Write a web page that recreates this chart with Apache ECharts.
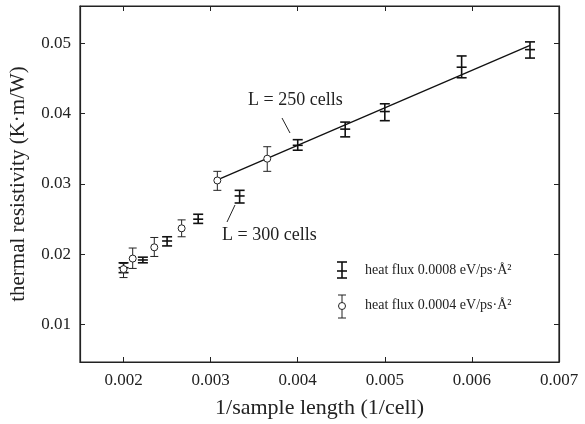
<!DOCTYPE html>
<html><head><meta charset="utf-8">
<script src="https://cdn.jsdelivr.net/npm/echarts@6/dist/echarts.min.js"></script>
<style>html,body{margin:0;padding:0;background:#fff}#c{width:585px;height:424px}</style>
</head><body><div id="c"></div>
<script>
// heat flux 0.0008 eV/ps·Å² (black I markers)
const xBlack  = [0.002, 0.002222, 0.0025, 0.002857, 0.003333, 0.004, 0.004545, 0.005, 0.005882, 0.006667];
const yBlack  = [0.0181, 0.0192, 0.0219, 0.0250, 0.0283, 0.0355, 0.0378, 0.0403, 0.0466, 0.0491];
const loBlack = [0.0174, 0.0188, 0.0212, 0.0244, 0.0273, 0.0348, 0.0367, 0.0390, 0.0451, 0.0479];
const hiBlack = [0.0188, 0.0196, 0.0225, 0.0257, 0.0291, 0.0363, 0.0388, 0.0414, 0.0482, 0.0502];
// heat flux 0.0004 eV/ps·Å² (open circles)
const xOpen  = [0.002, 0.002105, 0.002353, 0.002667, 0.003077, 0.003650];
const yOpen  = [0.0179, 0.0194, 0.0210, 0.0237, 0.0305, 0.0336];
const loOpen = [0.0167, 0.0180, 0.0197, 0.0225, 0.0291, 0.0318];
const hiOpen = [0.0187, 0.0209, 0.0224, 0.0249, 0.0318, 0.0353];
// linear fit
const xFit = [0.003077, 0.006667];
const yFit = [0.0306, 0.0497];
// ticks
const xTicks = [0.002, 0.003, 0.004, 0.005, 0.006, 0.007];
const yTicks = [0.01, 0.02, 0.03, 0.04, 0.05];
const seriesNames = ['heat flux 0.0008 eV/ps·Å²', 'heat flux 0.0004 eV/ps·Å²'];

const FONT = '"Liberation Serif", "DejaVu Serif", serif';
const chart = echarts.init(document.getElementById('c'), null, {renderer: 'canvas'});

function errItem(params, api, open) {
  const x = api.value(0), y = api.value(1), lo = api.value(2), hi = api.value(3);
  const p = api.coord([x, y]), pl = api.coord([x, lo]), ph = api.coord([x, hi]);
  const w = open ? 4 : 5;
  const st = {stroke: open ? '#222' : '#111', lineWidth: open ? 1 : 1.6, fill: null};
  const ch = [
    {type: 'line', shape: {x1: p[0], y1: ph[1], x2: p[0], y2: pl[1]}, style: st},
    {type: 'line', shape: {x1: p[0] - w, y1: ph[1], x2: p[0] + w, y2: ph[1]}, style: st},
    {type: 'line', shape: {x1: p[0] - w, y1: pl[1], x2: p[0] + w, y2: pl[1]}, style: st}
  ];
  if (open) {
    ch.push({type: 'circle', shape: {cx: p[0], cy: p[1], r: 3.5}, style: {fill: '#fff', stroke: '#222', lineWidth: 1}});
  } else {
    ch.push({type: 'line', shape: {x1: p[0] - w, y1: p[1], x2: p[0] + w, y2: p[1]}, style: st});
  }
  return {type: 'group', children: ch};
}

const axisLbl = {fontFamily: FONT, fontSize: 17, color: '#222'};
chart.setOption({
  animation: false,
  grid: {left: 76, right: 26, top: 6, bottom: 62, show: true, borderColor: '#222', borderWidth: 1.2, backgroundColor: 'transparent'},
  xAxis: [{
    type: 'value', min: 0.0015, max: 0.007, position: 'bottom',
    name: '1/sample length (1/cell)', nameLocation: 'middle', nameGap: 35,
    nameTextStyle: {fontFamily: FONT, fontSize: 22, color: '#222'},
    axisLine: {show: true, lineStyle: {color: '#222', width: 1.2}},
    axisTick: {show: true, inside: true, length: 5, customValues: xTicks, lineStyle: {color: '#222'}},
    axisLabel: Object.assign({margin: 10, customValues: xTicks, formatter: v => v.toFixed(3)}, axisLbl),
    splitLine: {show: false}
  }, {
    type: 'value', min: 0.0015, max: 0.007, position: 'top',
    axisLine: {show: true, lineStyle: {color: '#222', width: 1.2}},
    axisTick: {show: true, inside: true, length: 5, customValues: xTicks, lineStyle: {color: '#222'}},
    axisLabel: {show: false}, splitLine: {show: false}
  }],
  yAxis: [{
    type: 'value', min: 0.0047, max: 0.0553, position: 'left',
    name: 'thermal resistivity (K·m/W)', nameLocation: 'middle', nameGap: 51, nameRotate: 90,
    nameTextStyle: {fontFamily: FONT, fontSize: 21, color: '#222'},
    axisLine: {show: true, lineStyle: {color: '#222', width: 1.2}},
    axisTick: {show: true, inside: true, length: 5, customValues: yTicks, lineStyle: {color: '#222'}},
    axisLabel: Object.assign({margin: 9, customValues: yTicks, formatter: v => v.toFixed(2)}, axisLbl),
    splitLine: {show: false}
  }, {
    type: 'value', min: 0.0047, max: 0.0553, position: 'right',
    axisLine: {show: true, lineStyle: {color: '#222', width: 1.2}},
    axisTick: {show: true, inside: true, length: 5, customValues: yTicks, lineStyle: {color: '#222'}},
    axisLabel: {show: false}, splitLine: {show: false}
  }],
  series: [
    {type: 'line', data: xFit.map((x, i) => [x, yFit[i]]), symbol: 'none', lineStyle: {color: '#111', width: 1.3}, z: 1},
    {type: 'custom', name: seriesNames[0], data: xBlack.map((x, i) => [x, yBlack[i], loBlack[i], hiBlack[i]]),
     renderItem: (p, a) => errItem(p, a, false), z: 2},
    {type: 'custom', name: seriesNames[1], data: xOpen.map((x, i) => [x, yOpen[i], loOpen[i], hiOpen[i]]),
     renderItem: (p, a) => errItem(p, a, true), z: 3}
  ]
});

// annotations and legend
const annFont = '18px ' + FONT;
const lgFont = '14px ' + FONT;
chart.setOption({graphic: [
  {type: 'text', x: 248, y: 100, style: {text: 'L = 250 cells', font: annFont, fill: '#222', verticalAlign: 'middle'}},
  {type: 'line', shape: {x1: 282, y1: 118, x2: 290, y2: 133}, style: {stroke: '#222', lineWidth: 1}},
  {type: 'text', x: 222, y: 235, style: {text: 'L = 300 cells', font: annFont, fill: '#222', verticalAlign: 'middle'}},
  {type: 'line', shape: {x1: 235, y1: 205, x2: 227, y2: 222}, style: {stroke: '#222', lineWidth: 1}},
  // legend symbol 1
  {type: 'group', x: 342, y: 270, children: [
    {type: 'line', shape: {x1: 0, y1: -8, x2: 0, y2: 8}, style: {stroke: '#111', lineWidth: 1.6}},
    {type: 'line', shape: {x1: -5, y1: -8, x2: 5, y2: -8}, style: {stroke: '#111', lineWidth: 1.6}},
    {type: 'line', shape: {x1: -5, y1: 8, x2: 5, y2: 8}, style: {stroke: '#111', lineWidth: 1.6}},
    {type: 'line', shape: {x1: -5, y1: 1, x2: 5, y2: 1}, style: {stroke: '#111', lineWidth: 1.6}}
  ]},
  {type: 'text', x: 365, y: 270, style: {text: seriesNames[0], font: lgFont, fill: '#222', verticalAlign: 'middle'}},
  {type: 'group', x: 342, y: 306, children: [
    {type: 'line', shape: {x1: 0, y1: -11, x2: 0, y2: 12}, style: {stroke: '#222', lineWidth: 1}},
    {type: 'line', shape: {x1: -4, y1: -11, x2: 4, y2: -11}, style: {stroke: '#222', lineWidth: 1}},
    {type: 'line', shape: {x1: -4, y1: 12, x2: 4, y2: 12}, style: {stroke: '#222', lineWidth: 1}},
    {type: 'circle', shape: {cx: 0, cy: 0, r: 3.5}, style: {fill: '#fff', stroke: '#222', lineWidth: 1}}
  ]},
  {type: 'text', x: 365, y: 305, style: {text: seriesNames[1], font: lgFont, fill: '#222', verticalAlign: 'middle'}}
]});
</script></body></html>
